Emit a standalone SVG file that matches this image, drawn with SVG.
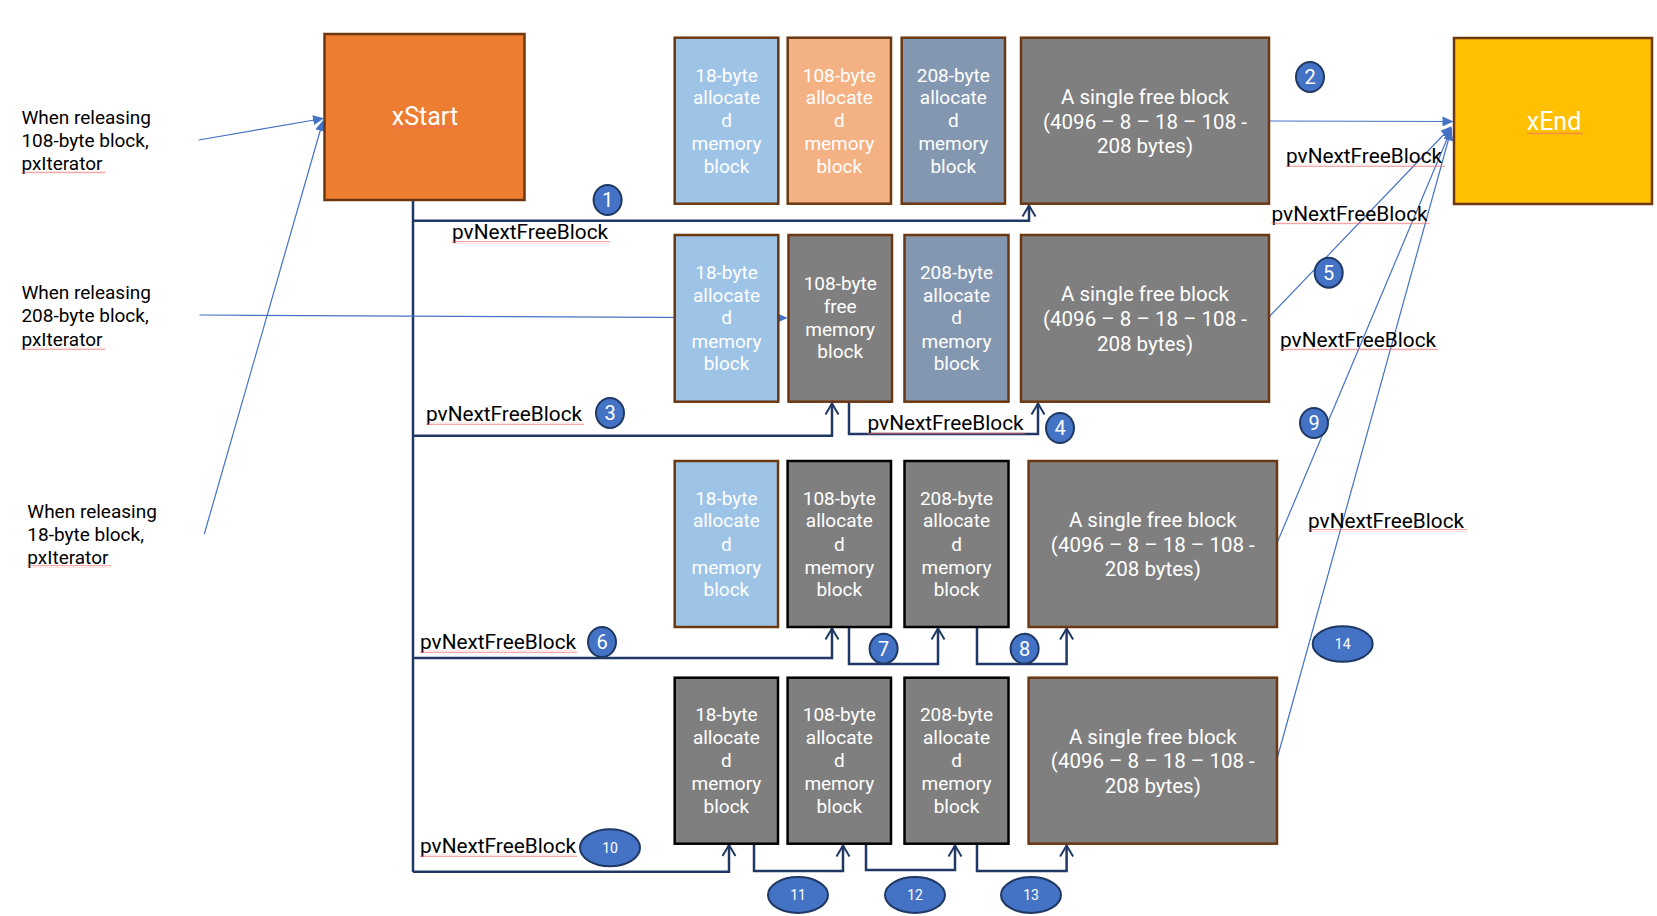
<svg xmlns="http://www.w3.org/2000/svg" width="1657" height="916" viewBox="0 0 1657 916">
<style>
.bg{fill:#ffffff}
.br{stroke:#6B3812;stroke-width:2.5}
.bk{stroke:#000000;stroke-width:2.5}
.lb{fill:#9DC3E6}
.sa{fill:#F4B183}
.sl{fill:#8497B0}
.gr{fill:#7F7F7F}
.wt{fill:#ffffff;font-family:Roboto,"Noto Sans",sans-serif;font-size:19px;text-anchor:middle}
.wf{fill:#ffffff;font-family:Roboto,"Noto Sans",sans-serif;font-size:20.5px;text-anchor:middle}
.big{fill:#ffffff;font-family:Roboto,"Noto Sans",sans-serif;font-size:25px;text-anchor:middle}
.lab{fill:#000000;font-family:Roboto,"Noto Sans",sans-serif;font-size:20.8px}
.note{fill:#000000;font-family:Roboto,"Noto Sans",sans-serif;font-size:19px}
.num{fill:#4472C4;stroke:#1F3864;stroke-width:2}
.nt{fill:#ffffff;font-family:Roboto,"Noto Sans",sans-serif;font-size:20px;text-anchor:middle}
.ns{fill:#ffffff;font-family:Roboto,"Noto Sans",sans-serif;font-size:14px;text-anchor:middle}
.nav{fill:none;stroke:#1F3864;stroke-width:2.5;marker-end:url(#open)}
.trunk{fill:none;stroke:#1F3864;stroke-width:2.5}
.blu{fill:none;stroke:#4472C4;stroke-width:1.2;marker-end:url(#tri)}
.sq{fill:url(#wavy)}
</style>
<defs>
<pattern id="wavy" width="4" height="3" patternUnits="userSpaceOnUse">
<path d="M0,2.3 L1,0.7 L2,2.3 L3,0.7 L4,2.3" fill="none" stroke="#F06A6A" stroke-width="0.6"/>
</pattern>
<marker id="open" markerUnits="userSpaceOnUse" markerWidth="14" markerHeight="16" viewBox="0 0 14 16" refX="12" refY="8" orient="auto">
<path d="M1,1.5 L12,8 L1,14.5" fill="none" stroke="#1F3864" stroke-width="2"/>
</marker>
<marker id="tri" markerUnits="userSpaceOnUse" markerWidth="11" markerHeight="10" viewBox="0 0 11 10" refX="10" refY="5" orient="auto">
<path d="M0,0 L11,5 L0,10 Z" fill="#4472C4"/>
</marker>
</defs>
<rect class="bg" x="0" y="0" width="1657" height="916"/>

<g id="connectors">
<path class="trunk" d="M413,200 V872"/>
<path class="nav" d="M413,220.7 H1029 V205.5"/>
<path class="nav" d="M413,435.7 H832 V403.5"/>
<path class="nav" d="M849,402 V434 H1038 V403.5"/>
<path class="nav" d="M413,658 H832 V628.5"/>
<path class="nav" d="M849,627 V664 H938 V628.5"/>
<path class="nav" d="M977,627 V664 H1066.6 V628.5"/>
<path class="nav" d="M413,871.7 H729 V845"/>
<path class="nav" d="M754,844 V871 H843 V845.5"/>
<path class="nav" d="M866,844 V870 H955 V845.5"/>
<path class="nav" d="M977,844 V871 H1066.6 V845.5"/>
<path class="blu" d="M198.7,140 L323,118.5"/>
<path class="blu" d="M204.3,534 L323,121"/>
<path class="blu" d="M199.5,315 L786.5,318"/>
<path class="blu" d="M1269,121 L1452.5,121.5"/>
<path class="blu" d="M1269,317 L1451,127"/>
<path class="blu" d="M1277,543 L1451.5,128.5"/>
<path class="blu" d="M1277,759 L1451,130.5"/>
</g>

<g id="xStart">
<rect x="324.5" y="34" width="200" height="166" fill="#ED7D31" class="br"/>
<text class="big" x="425" y="125">xStart</text>
<rect class="sq" x="393" y="126" width="65" height="3"/>
</g>
<g id="xEnd">
<rect x="1454" y="38" width="198" height="166" fill="#FFC000" class="br"/>
<text class="big" x="1554" y="130">xEnd</text>
<rect class="sq" x="1527" y="132" width="56" height="3"/>
</g>

<g id="row1">
<g id="r1-18"><rect x="674.7" y="37.7" width="103.6" height="166" class="lb br"/>
<text class="wt"><tspan x="726.5" y="81.5">18-byte</tspan><tspan x="726.5" y="104.2">allocate</tspan><tspan x="726.5" y="126.7">d</tspan><tspan x="726.5" y="150">memory</tspan><tspan x="726.5" y="172.5">block</tspan></text></g>
<g id="r1-108"><rect x="787.7" y="37.7" width="103.3" height="166" class="sa br"/>
<text class="wt"><tspan x="839.3" y="81.5">108-byte</tspan><tspan x="839.3" y="104.2">allocate</tspan><tspan x="839.3" y="126.7">d</tspan><tspan x="839.3" y="150">memory</tspan><tspan x="839.3" y="172.5">block</tspan></text></g>
<g id="r1-208"><rect x="901.7" y="37.7" width="103.3" height="166" class="sl br"/>
<text class="wt"><tspan x="953.3" y="81.5">208-byte</tspan><tspan x="953.3" y="104.2">allocate</tspan><tspan x="953.3" y="126.7">d</tspan><tspan x="953.3" y="150">memory</tspan><tspan x="953.3" y="172.5">block</tspan></text></g>
<g id="r1-free"><rect x="1021" y="37.7" width="248" height="166" class="gr br"/>
<text class="wf"><tspan x="1145" y="104">A single free block</tspan><tspan x="1145" y="128.5">(4096 – 8 – 18 – 108 -</tspan><tspan x="1145" y="153">208 bytes)</tspan></text></g>
</g>

<g id="row2">
<g id="r2-18"><rect x="674.7" y="235" width="103.6" height="166.7" class="lb br"/>
<text class="wt"><tspan x="726.5" y="279">18-byte</tspan><tspan x="726.5" y="301.7">allocate</tspan><tspan x="726.5" y="324.2">d</tspan><tspan x="726.5" y="347.5">memory</tspan><tspan x="726.5" y="370">block</tspan></text></g>
<g id="r2-108"><rect x="788.5" y="235" width="103.5" height="166.7" class="gr br"/>
<text class="wt"><tspan x="840.2" y="290">108-byte</tspan><tspan x="840.2" y="312.8">free</tspan><tspan x="840.2" y="335.6">memory</tspan><tspan x="840.2" y="358.4">block</tspan></text></g>
<g id="r2-208"><rect x="904.5" y="235" width="104" height="166.7" class="sl br"/>
<text class="wt"><tspan x="956.5" y="279">208-byte</tspan><tspan x="956.5" y="301.7">allocate</tspan><tspan x="956.5" y="324.2">d</tspan><tspan x="956.5" y="347.5">memory</tspan><tspan x="956.5" y="370">block</tspan></text></g>
<g id="r2-free"><rect x="1021" y="235" width="248" height="166.7" class="gr br"/>
<text class="wf"><tspan x="1145" y="301">A single free block</tspan><tspan x="1145" y="326">(4096 – 8 – 18 – 108 -</tspan><tspan x="1145" y="350.5">208 bytes)</tspan></text></g>
</g>

<g id="row3">
<g id="r3-18"><rect x="674.7" y="461" width="103.3" height="166" class="lb br"/>
<text class="wt"><tspan x="726.4" y="504.5">18-byte</tspan><tspan x="726.4" y="527.4">allocate</tspan><tspan x="726.4" y="550.5">d</tspan><tspan x="726.4" y="573.5">memory</tspan><tspan x="726.4" y="596.3">block</tspan></text></g>
<g id="r3-108"><rect x="787.6" y="461" width="103.4" height="166" class="gr bk"/>
<text class="wt"><tspan x="839.3" y="504.5">108-byte</tspan><tspan x="839.3" y="527.4">allocate</tspan><tspan x="839.3" y="550.5">d</tspan><tspan x="839.3" y="573.5">memory</tspan><tspan x="839.3" y="596.3">block</tspan></text></g>
<g id="r3-208"><rect x="904.5" y="461" width="104" height="166" class="gr bk"/>
<text class="wt"><tspan x="956.5" y="504.5">208-byte</tspan><tspan x="956.5" y="527.4">allocate</tspan><tspan x="956.5" y="550.5">d</tspan><tspan x="956.5" y="573.5">memory</tspan><tspan x="956.5" y="596.3">block</tspan></text></g>
<g id="r3-free"><rect x="1028.6" y="461" width="248.4" height="166" class="gr br"/>
<text class="wf"><tspan x="1152.8" y="527">A single free block</tspan><tspan x="1152.8" y="551.5">(4096 – 8 – 18 – 108 -</tspan><tspan x="1152.8" y="576">208 bytes)</tspan></text></g>
</g>

<g id="row4">
<g id="r4-18"><rect x="674.7" y="677.7" width="103.3" height="166" class="gr bk"/>
<text class="wt"><tspan x="726.4" y="721.2">18-byte</tspan><tspan x="726.4" y="744">allocate</tspan><tspan x="726.4" y="767">d</tspan><tspan x="726.4" y="790">memory</tspan><tspan x="726.4" y="812.8">block</tspan></text></g>
<g id="r4-108"><rect x="787.6" y="677.7" width="103.4" height="166" class="gr bk"/>
<text class="wt"><tspan x="839.3" y="721.2">108-byte</tspan><tspan x="839.3" y="744">allocate</tspan><tspan x="839.3" y="767">d</tspan><tspan x="839.3" y="790">memory</tspan><tspan x="839.3" y="812.8">block</tspan></text></g>
<g id="r4-208"><rect x="904.5" y="677.7" width="104" height="166" class="gr bk"/>
<text class="wt"><tspan x="956.5" y="721.2">208-byte</tspan><tspan x="956.5" y="744">allocate</tspan><tspan x="956.5" y="767">d</tspan><tspan x="956.5" y="790">memory</tspan><tspan x="956.5" y="812.8">block</tspan></text></g>
<g id="r4-free"><rect x="1028.6" y="677.7" width="248.4" height="166" class="gr br"/>
<text class="wf"><tspan x="1152.8" y="743.7">A single free block</tspan><tspan x="1152.8" y="768.2">(4096 – 8 – 18 – 108 -</tspan><tspan x="1152.8" y="792.7">208 bytes)</tspan></text></g>
</g>

<g id="notes">
<g id="note108"><text class="note"><tspan x="21.4" y="124">When releasing</tspan><tspan x="21.4" y="146.7">108-byte block,</tspan><tspan x="21.4" y="170">pxIterator</tspan></text>
<rect class="sq" x="21.4" y="171" width="84" height="3"/></g>
<g id="note208"><text class="note"><tspan x="21.4" y="299.3">When releasing</tspan><tspan x="21.4" y="322.3">208-byte block,</tspan><tspan x="21.4" y="345.7">pxIterator</tspan></text>
<rect class="sq" x="21.4" y="347" width="84" height="3"/></g>
<g id="note18"><text class="note"><tspan x="27.3" y="517.7">When releasing</tspan><tspan x="27.3" y="541">18-byte block,</tspan><tspan x="27.3" y="563.5">pxIterator</tspan></text>
<rect class="sq" x="27.3" y="565" width="84" height="3"/></g>
</g>

<g id="labels">
<g><text class="lab" x="452" y="239">pvNextFreeBlock</text><rect class="sq" x="452" y="241" width="158" height="3"/></g>
<g><text class="lab" x="1286" y="162.7">pvNextFreeBlock</text><rect class="sq" x="1286" y="164" width="159" height="3"/></g>
<g><text class="lab" x="1271.5" y="221">pvNextFreeBlock</text><rect class="sq" x="1271.5" y="222" width="158" height="3"/></g>
<g><text class="lab" x="426" y="421">pvNextFreeBlock</text><rect class="sq" x="426" y="422" width="158" height="3"/></g>
<g><text class="lab" x="867.5" y="430">pvNextFreeBlock</text><rect class="sq" x="867.5" y="432" width="158" height="3"/></g>
<g><text class="lab" x="1280" y="346.7">pvNextFreeBlock</text><rect class="sq" x="1280" y="348" width="158" height="3"/></g>
<g><text class="lab" x="420" y="649">pvNextFreeBlock</text><rect class="sq" x="420" y="650" width="157" height="3"/></g>
<g><text class="lab" x="1308" y="528">pvNextFreeBlock</text><rect class="sq" x="1308" y="529" width="159" height="3"/></g>
<g><text class="lab" x="420" y="853">pvNextFreeBlock</text><rect class="sq" x="420" y="854" width="157" height="3"/></g>
</g>

<g id="markers">
<g id="n1"><ellipse class="num" cx="607.6" cy="200" rx="14" ry="15"/><text class="nt" x="607.6" y="207">1</text></g>
<g id="n2"><ellipse class="num" cx="1310" cy="77" rx="14" ry="15"/><text class="nt" x="1310" y="84">2</text></g>
<g id="n3"><ellipse class="num" cx="610" cy="413" rx="14" ry="15"/><text class="nt" x="610" y="420">3</text></g>
<g id="n4"><ellipse class="num" cx="1060" cy="428" rx="14" ry="15"/><text class="nt" x="1060" y="435">4</text></g>
<g id="n5"><ellipse class="num" cx="1328.7" cy="272.7" rx="14" ry="15"/><text class="nt" x="1328.7" y="279.7">5</text></g>
<g id="n6"><ellipse class="num" cx="602" cy="642" rx="14" ry="15"/><text class="nt" x="602" y="649">6</text></g>
<g id="n7"><ellipse class="num" cx="883.6" cy="648.7" rx="14" ry="15"/><text class="nt" x="883.6" y="655.7">7</text></g>
<g id="n8"><ellipse class="num" cx="1024.6" cy="648.7" rx="14" ry="15"/><text class="nt" x="1024.6" y="655.7">8</text></g>
<g id="n9"><ellipse class="num" cx="1314" cy="423" rx="14" ry="15"/><text class="nt" x="1314" y="430">9</text></g>
<g id="n10"><ellipse class="num" cx="610" cy="847.7" rx="30" ry="18.5"/><text class="ns" x="610" y="852.7">10</text></g>
<g id="n11"><ellipse class="num" cx="798" cy="895" rx="30" ry="18"/><text class="ns" x="798" y="900">11</text></g>
<g id="n12"><ellipse class="num" cx="915" cy="895" rx="30" ry="18"/><text class="ns" x="915" y="900">12</text></g>
<g id="n13"><ellipse class="num" cx="1031" cy="895" rx="30" ry="18"/><text class="ns" x="1031" y="900">13</text></g>
<g id="n14"><ellipse class="num" cx="1342.7" cy="644" rx="30" ry="17.7"/><text class="ns" x="1342.7" y="649">14</text></g>
</g>
</svg>
